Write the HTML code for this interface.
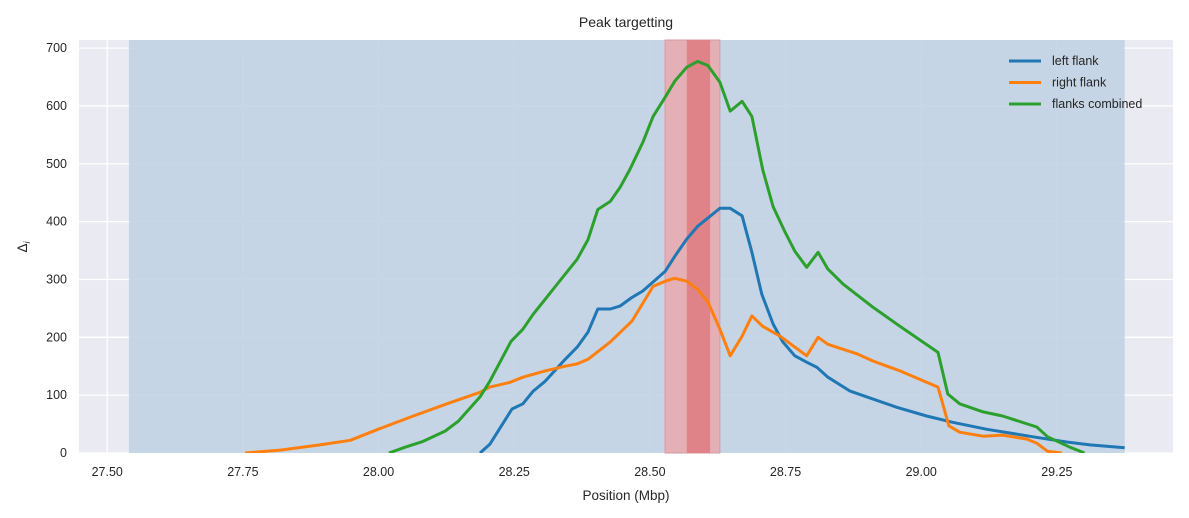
<!DOCTYPE html>
<html><head><meta charset="utf-8"><style>
body{margin:0;background:#fff;}
svg{display:block;font-family:"Liberation Sans",Arial,sans-serif;}
</style></head><body>
<svg id="c" width="1189" height="518" viewBox="0 0 1189 518"></svg>
<script>
const leftX=[28.187,28.205,28.246,28.266,28.285,28.307,28.344,28.366,28.386,28.404,28.427,28.445,28.467,28.487,28.528,28.546,28.568,28.588,28.629,28.648,28.670,28.688,28.706,28.727,28.745,28.767,28.789,28.808,28.828,28.869,28.900,28.955,29.010,29.058,29.121,29.206,29.268,29.311,29.375];
const leftY=[0,15,76,85,107,124,162,183,209,249,249,254,269,280,314,340,370,392,423,423,410,347,275,223,192,168,157,148,131,107,97,79,64,53,41,28,19,14,9];
const rightX=[27.754,27.819,27.892,27.948,27.999,28.064,28.126,28.187,28.205,28.242,28.266,28.307,28.344,28.366,28.386,28.427,28.467,28.506,28.528,28.546,28.568,28.588,28.607,28.629,28.648,28.670,28.688,28.708,28.740,28.789,28.810,28.828,28.883,28.911,28.961,29.031,29.051,29.071,29.114,29.150,29.195,29.213,29.233,29.259];
const rightY=[0,5,14,22,41,64,85,105,114,122,131,142,150,154,162,192,228,288,297,302,297,283,261,214,168,202,237,219,202,168,200,188,171,159,142,114,47,36,29,31,24,17,3,0];
const combX=[28.019,28.049,28.082,28.123,28.147,28.187,28.205,28.244,28.266,28.285,28.303,28.325,28.366,28.386,28.404,28.427,28.445,28.463,28.487,28.506,28.528,28.546,28.568,28.588,28.607,28.629,28.648,28.670,28.688,28.708,28.727,28.749,28.767,28.789,28.810,28.828,28.856,28.911,28.961,29.031,29.049,29.071,29.114,29.150,29.213,29.233,29.274,29.301];
const combY=[0,10,20,38,55,97,124,193,214,240,261,287,335,369,421,435,459,490,537,582,615,643,667,677,670,641,591,608,582,490,426,382,349,321,347,318,292,252,219,174,102,85,71,64,45,28,10,0];
const xTicks=[27.50,27.75,28.00,28.25,28.50,28.75,29.00,29.25];
const yTicks=[0,100,200,300,400,500,600,700];
const regionSpan=[27.54,29.375];
const peakSpan=[28.528,28.629];
const coreSpan=[28.568,28.611];
const seriesNames=["left flank","right flank","flanks combined"];

const L=79,R=1173,T=40,B=453;
const x0=27.448,x1=29.464,y0=0,y1=714;
const sx=v=>L+(v-x0)/(x1-x0)*(R-L);
const sy=v=>B-(v-y0)/(y1-y0)*(B-T);
const svg=document.getElementById('c');
const NS='http://www.w3.org/2000/svg';
function mk(tag,attrs,parent){const e=document.createElementNS(NS,tag);for(const k in attrs)e.setAttribute(k,attrs[k]);(parent||svg).appendChild(e);return e;}

let bg=mk('rect',{x:L,y:T,width:R-L,height:B-T,fill:'#eaeaf2'});



xTicks.forEach(t=>{
  let g=mk('line',{x1:sx(t),x2:sx(t),y1:T,y2:B,stroke:'#fff','stroke-width':1.3});
  
  
  let tx=mk('text',{x:sx(t),y:476,'text-anchor':'middle','font-size':12.5,fill:'#262626'});
  tx.textContent=t.toFixed(2);
  
  
});
yTicks.forEach(t=>{
  let g=mk('line',{x1:L,x2:R,y1:sy(t),y2:sy(t),stroke:'#fff','stroke-width':1.3});
  
  
  let tx=mk('text',{x:67,y:sy(t)+4,'text-anchor':'end','font-size':12.5,fill:'#262626'});
  tx.textContent=t;
  
  
});

let r1=mk('rect',{x:sx(regionSpan[0]),y:T,width:sx(regionSpan[1])-sx(regionSpan[0]),height:B-T,fill:'#c2d3e4','fill-opacity':0.9});


let r2=mk('rect',{x:sx(peakSpan[0]),y:T,width:sx(peakSpan[1])-sx(peakSpan[0]),height:B-T,fill:'#e4b0b5',stroke:'#d49aa3','stroke-width':1});


let r3=mk('rect',{x:sx(coreSpan[0]),y:T,width:sx(coreSpan[1])-sx(coreSpan[0]),height:B-T,fill:'#df8388'});



const colors=['#1f77b4','#ff7f0e','#2ca02c'];
const sets=[[leftX,leftY],[rightX,rightY],[combX,combY]];
const lineNames=['left-flank-line','right-flank-line','flanks-combined-line'];
svg.appendChild(document.createElementNS(NS,'defs')).innerHTML='<clipPath id="cp"><rect x="'+L+'" y="'+T+'" width="'+(R-L)+'" height="'+(B-T)+'"/></clipPath>';
sets.forEach((s,i)=>{
  const d=s[0].map((v,j)=>(j?'L':'M')+sx(v).toFixed(1)+','+sy(s[1][j]).toFixed(1)).join('');
  let p=mk('path',{d:d,fill:'none',stroke:colors[i],'stroke-width':3,'stroke-linejoin':'round','clip-path':'url(#cp)'});
  
  
});

seriesNames.forEach((n,i)=>{
  const y=61+i*21.5;
  let l=mk('line',{x1:1009,x2:1041,y1:y,y2:y,stroke:colors[i],'stroke-width':3});
  
  
  let t=mk('text',{x:1052,y:y+4,'font-size':12.5,fill:'#262626'});
  t.textContent=n;
  
  
});

let title=mk('text',{x:(L+R)/2,y:27,'text-anchor':'middle','font-size':14,fill:'#262626'});
title.textContent='Peak targetting';


let xl=mk('text',{x:(L+R)/2,y:500,'text-anchor':'middle','font-size':13.5,fill:'#262626'});
xl.textContent='Position (Mbp)';


let yl=mk('text',{x:0,y:0,'text-anchor':'middle','font-size':13.5,fill:'#262626',transform:'translate(27,247) rotate(-90)'});
yl.innerHTML='Δ<tspan font-size="9" dy="3" font-style="italic">i</tspan>';


</script>
</body></html>
